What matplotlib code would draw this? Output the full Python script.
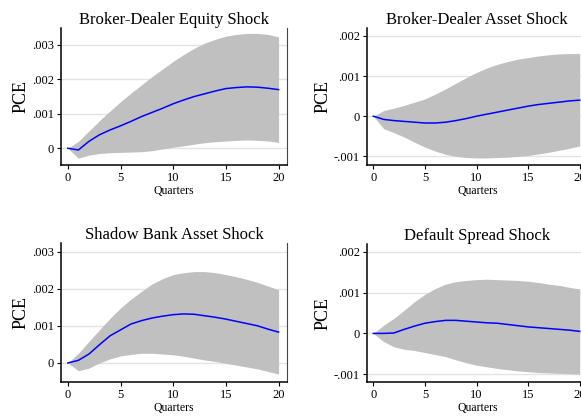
import matplotlib
matplotlib.use("Agg")
import matplotlib.pyplot as plt

plt.rcParams['font.family'] = ['Liberation Serif', 'DejaVu Serif']

quarters = list(range(21))

# Broker-Dealer Equity Shock
bde_irf = [0, -0.00005, 0.0002, 0.00039, 0.00053, 0.00065, 0.00078, 0.00092, 0.00104, 0.00116, 0.00129,
           0.0014, 0.0015, 0.00158, 0.00166, 0.00173, 0.00176, 0.00178, 0.00177, 0.00174, 0.0017]
bde_hi = [0, 0.0002, 0.0005, 0.0008, 0.00108, 0.00135, 0.0016, 0.00184, 0.00208, 0.0023, 0.00252,
          0.00272, 0.0029, 0.00305, 0.00316, 0.00325, 0.0033, 0.00333, 0.00333, 0.0033, 0.00323]
bde_lo = [0, -0.00029, -0.0002, -0.00015, -0.00013, -0.00012, -0.00011, -0.0001, -0.00007, -0.00002, 0.00003,
          0.00007, 0.00012, 0.00016, 0.00019, 0.00021, 0.00023, 0.00024, 0.00023, 0.00021, 0.00017]

# Broker-Dealer Asset Shock
bda_irf = [0, -0.00008, -0.00011, -0.00013, -0.00015, -0.00017, -0.00017, -0.00015, -0.00011, -0.00006, 0,
           0.00005, 0.0001, 0.00015, 0.0002, 0.00025, 0.00029, 0.00032, 0.00035, 0.00038, 0.0004]
bda_hi = [0, 0.00014, 0.0002, 0.00027, 0.00035, 0.00043, 0.00055, 0.00068, 0.00082, 0.00096, 0.00109,
          0.0012, 0.00129, 0.00136, 0.00142, 0.00146, 0.0015, 0.00153, 0.00155, 0.00156, 0.00156]
bda_lo = [0, -0.00031, -0.00041, -0.00052, -0.00065, -0.00077, -0.00087, -0.00095, -0.001, -0.00103, -0.00104,
          -0.00104, -0.00103, -0.00102, -0.001, -0.00098, -0.00094, -0.0009, -0.00085, -0.0008, -0.00074]

# Shadow Bank Asset Shock
sba_irf = [0, 0.00007, 0.00024, 0.00049, 0.00073, 0.00089, 0.00105, 0.00114, 0.00121, 0.00126, 0.0013,
           0.00132, 0.00131, 0.00127, 0.00123, 0.00118, 0.00112, 0.00106, 0.001, 0.00091, 0.00083]
sba_hi = [0, 0.00026, 0.00058, 0.00089, 0.0012, 0.00148, 0.00172, 0.00193, 0.00213, 0.00227, 0.00238,
          0.00243, 0.00246, 0.00246, 0.00243, 0.00238, 0.00232, 0.00225, 0.00217, 0.00207, 0.00197]
sba_lo = [0, -0.00021, -0.00014, 0, 0.00011, 0.00019, 0.00023, 0.00026, 0.00026, 0.00024, 0.00022,
          0.00018, 0.00013, 0.00008, 0.00004, -0.00001, -0.00006, -0.00011, -0.00016, -0.00023, -0.0003]

# Default Spread Shock
ds_irf = [0, 0, 0.00001, 0.0001, 0.00018, 0.00025, 0.00029, 0.00032, 0.00032, 0.0003, 0.00028,
          0.00026, 0.00025, 0.00022, 0.00019, 0.00016, 0.00014, 0.00012, 0.0001, 0.00008, 0.00005]
ds_hi = [0, 0.0002, 0.00037, 0.00057, 0.00078, 0.00096, 0.0011, 0.00121, 0.00127, 0.0013, 0.00132,
         0.00133, 0.00132, 0.00131, 0.0013, 0.00128, 0.00125, 0.00121, 0.00118, 0.00113, 0.00109]
ds_lo = [0, -0.0002, -0.00033, -0.00039, -0.00042, -0.00047, -0.00052, -0.00057, -0.00065, -0.00072, -0.00078,
         -0.00082, -0.00086, -0.00089, -0.00092, -0.00094, -0.00096, -0.00097, -0.00098, -0.00099, -0.001]

titles = ["Broker-Dealer Equity Shock", "Broker-Dealer Asset Shock",
          "Shadow Bank Asset Shock", "Default Spread Shock"]
x_ticks = [0, 5, 10, 15, 20]
yticks_a = [0, 0.001, 0.002, 0.003]
ylabels_a = ["0", ".001", ".002", ".003"]
yticks_b = [-0.001, 0, 0.001, 0.002]
ylabels_b = ["-.001", "0", ".001", ".002"]

panels = [
    (bde_irf, bde_lo, bde_hi, yticks_a, ylabels_a, (-0.00049, 0.00349), [0.105, 0.603, 0.389, 0.330]),
    (bda_irf, bda_lo, bda_hi, yticks_b, ylabels_b, (-0.00122, 0.0022), [0.631, 0.603, 0.381, 0.330]),
    (sba_irf, sba_lo, sba_hi, yticks_a, ylabels_a, (-0.00051, 0.00322), [0.105, 0.082, 0.389, 0.333]),
    (ds_irf, ds_lo, ds_hi, yticks_b, ylabels_b, (-0.00119, 0.00219), [0.631, 0.082, 0.381, 0.331]),
]

fig = plt.figure(figsize=(5.81, 4.16), dpi=100)

for title, (irf, lo, hi, yt, yl, ylim, pos) in zip(titles, panels):
    ax = fig.add_axes(pos)
    ax.fill_between(quarters, lo, hi, color='#c0c0c0', linewidth=0, zorder=2)
    ax.plot(quarters, irf, color='#0000ff', linewidth=1.1, zorder=3)
    ax.set_xlim(-0.65, 20.8)
    ax.set_ylim(*ylim)
    ax.set_xticks(x_ticks)
    ax.set_yticks(yt)
    ax.set_yticklabels(yl)
    ax.yaxis.grid(True, color='#e3e3e3', linewidth=1.0, zorder=0)
    ax.set_axisbelow(True)
    ax.tick_params(labelsize=9, length=3, width=0.8, pad=2, colors='black')
    ax.spines['top'].set_visible(False)
    ax.spines['right'].set_color('#444444')
    ax.spines['right'].set_linewidth(0.8)
    ax.spines['left'].set_linewidth(1.1)
    ax.spines['bottom'].set_linewidth(1.1)
    ax.set_title(title, fontsize=12, pad=3)
    ax.set_ylabel("PCE", fontsize=13, labelpad=1.5)
    ax.set_xlabel("Quarters", fontsize=8.5, labelpad=1)

fig.savefig("out.png", dpi=100)
